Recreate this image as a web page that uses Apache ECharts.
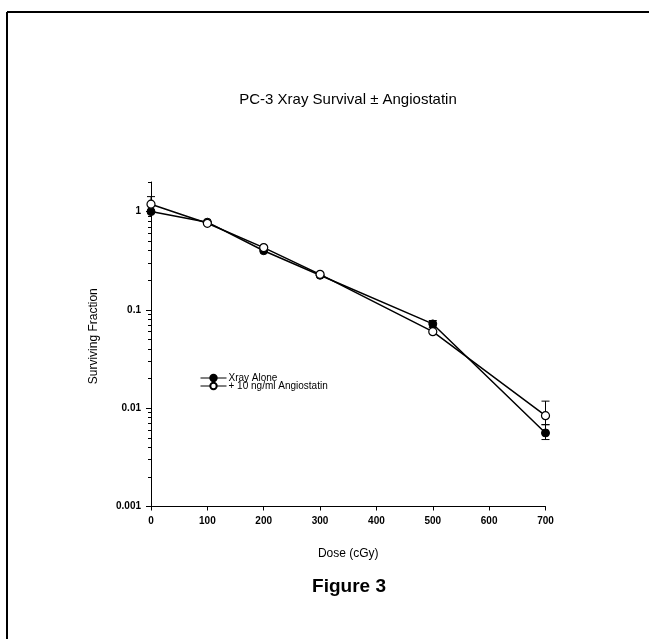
<!DOCTYPE html>
<html>
<head>
<meta charset="utf-8">
<script src="https://cdn.jsdelivr.net/npm/echarts@6/dist/echarts.min.js"></script>
<style>
html,body{margin:0;padding:0;background:#fff;}
#chart{width:649px;height:639px;}
</style>
</head>
<body>
<div id="chart"></div>
<script>
// ---- data ----
var doses = [0, 100, 200, 300, 500, 700];
var xrayAlone = [1.0, 0.78, 0.40, 0.225, 0.072, 0.0056];
var withAngio = [1.19, 0.76, 0.43, 0.23, 0.060, 0.0084];
var xrayAloneErrLow  = [null, null, null, null, 0.066, 0.0048];
var xrayAloneErrHigh = [null, null, null, null, 0.078, 0.0068];
var withAngioErrLow  = [1.0, null, null, null, null, 0.0068];
var withAngioErrHigh = [1.42, null, null, null, null, 0.0118];
var xTicks = [0, 100, 200, 300, 400, 500, 600, 700];
var yMajorTicks = [0.001, 0.01, 0.1, 1];
var yMinorTicks = [0.002,0.003,0.004,0.005,0.006,0.007,0.008,0.009,
                   0.02,0.03,0.04,0.05,0.06,0.07,0.08,0.09,
                   0.2,0.3,0.4,0.5,0.6,0.7,0.8,0.9,2];
var seriesNames = ['Xray Alone', '+ 10 ng/ml Angiostatin'];

function pairs(xs, ys) { return xs.map(function (x, i) { return [x, ys[i]]; }); }
function errPairs(xs, lo, hi) {
  var out = [];
  xs.forEach(function (x, i) { if (lo[i] != null) out.push([x, lo[i], hi[i]]); });
  return out;
}
function errRender(params, api) {
  var x = api.value(0);
  var p1 = api.coord([x, api.value(1)]);
  var p2 = api.coord([x, api.value(2)]);
  var cap = 4;
  var st = { stroke: '#000', lineWidth: 1 };
  return { type: 'group', children: [
    { type: 'line', shape: { x1: p1[0], y1: p1[1], x2: p2[0], y2: p2[1] }, style: st },
    { type: 'line', shape: { x1: p1[0]-cap, y1: p1[1], x2: p1[0]+cap, y2: p1[1] }, style: st },
    { type: 'line', shape: { x1: p2[0]-cap, y1: p2[1], x2: p2[0]+cap, y2: p2[1] }, style: st }
  ]};
}

var FONT = 'Liberation Sans, Arial, sans-serif';
var chart = echarts.init(document.getElementById('chart'), null, { renderer: 'canvas' });
chart.setOption({
  backgroundColor: '#fff',
  animation: false,
  textStyle: { fontFamily: FONT, color: '#000' },
  title: {
    text: 'PC-3 Xray Survival ± Angiostatin',
    left: 343, top: 87, textAlign: 'center',
    textStyle: { fontSize: 15, fontWeight: 'normal', color: '#000', fontFamily: FONT }
  },
  legend: {
    orient: 'vertical',
    left: 195, top: 368,
    itemWidth: 26, itemHeight: 8, itemGap: -2,
    lineStyle: { width: 1 },
    textStyle: { fontSize: 10, color: '#000', fontFamily: FONT, padding: [0,0,0,-3] },
    data: seriesNames
  },
  grid: { left: 151, right: 103.5, top: 182, bottom: 132.5, containLabel: false },
  xAxis: {
    type: 'value', min: 0, max: 700, interval: 100,
    name: 'Dose (cGy)', nameLocation: 'middle', nameGap: 41,
    nameTextStyle: { fontSize: 12, color: '#000', fontFamily: FONT },
    axisLine: { lineStyle: { color: '#000', width: 1 } },
    axisTick: { show: true, length: 4, lineStyle: { color: '#000' }, customValues: xTicks },
    axisLabel: { fontSize: 10, fontWeight: 'bold', color: '#000', margin: 10, fontFamily: FONT, customValues: xTicks },
    splitLine: { show: false }
  },
  yAxis: [{
    type: 'log', logBase: 10, min: 0.001, max: 2,
    name: 'Surviving Fraction', nameLocation: 'middle', nameGap: 51, nameRotate: 90,
    nameTextStyle: { fontSize: 12, color: '#000', fontFamily: FONT, padding: [0, 0, 0, 16] },
    axisLine: { show: true, lineStyle: { color: '#000', width: 1 } },
    axisTick: { show: true, length: 5, lineStyle: { color: '#000' }, customValues: yMajorTicks },
    axisLabel: { fontSize: 10, fontWeight: 'bold', color: '#000', margin: 10, fontFamily: FONT, customValues: yMajorTicks,
                 formatter: function (v) { return String(v); } },
    splitLine: { show: false }
  }, {
    type: 'log', logBase: 10, min: 0.001, max: 2, position: 'left',
    axisLine: { show: false },
    axisTick: { show: true, length: 3, lineStyle: { color: '#000' }, customValues: yMinorTicks },
    axisLabel: { show: false },
    splitLine: { show: false }
  }],
  series: [
    { type: 'custom', name: 'errA', renderItem: errRender, data: errPairs(doses, xrayAloneErrLow, xrayAloneErrHigh), z: 1, silent: true },
    { type: 'custom', name: 'errB', renderItem: errRender, data: errPairs(doses, withAngioErrLow, withAngioErrHigh), z: 1, silent: true },
    {
      type: 'line', name: seriesNames[0], data: pairs(doses, xrayAlone),
      symbol: 'circle', symbolSize: 8, showAllSymbol: true,
      lineStyle: { color: '#000', width: 1.5 },
      itemStyle: { color: '#000', borderColor: '#000', borderWidth: 1 }, z: 3
    },
    {
      type: 'line', name: seriesNames[1], data: pairs(doses, withAngio),
      symbol: 'circle', symbolSize: 8, showAllSymbol: true,
      lineStyle: { color: '#000', width: 1.5 },
      itemStyle: { color: '#fff', borderColor: '#000', borderWidth: 1.2 }, z: 4
    }
  ],
  graphic: [
    { type: 'line', shape: { x1: 7, y1: 12, x2: 649, y2: 12 }, style: { stroke: '#000', lineWidth: 2 } },
    { type: 'line', shape: { x1: 7, y1: 12, x2: 7, y2: 639 }, style: { stroke: '#000', lineWidth: 2 } },
    { type: 'text', x: 349, y: 587, style: { text: 'Figure 3', font: 'bold 19px ' + FONT, fill: '#000', align: 'center', verticalAlign: 'middle' } }
  ]
});
</script>
</body>
</html>
